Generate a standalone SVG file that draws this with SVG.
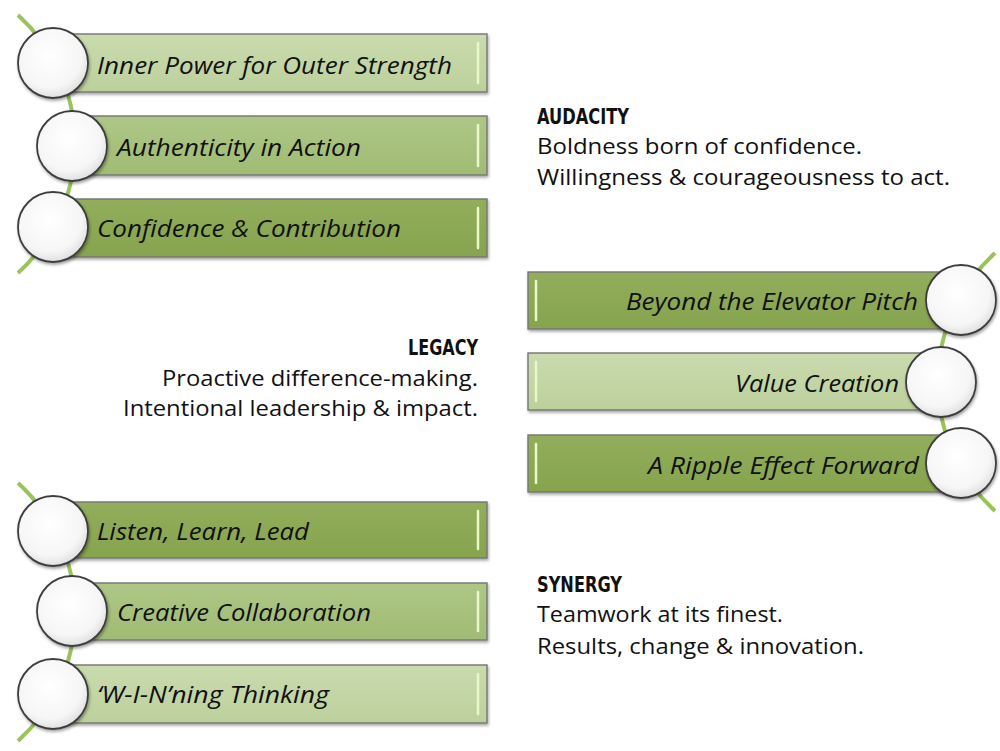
<svg xmlns="http://www.w3.org/2000/svg" width="1000" height="751" viewBox="0 0 1000 751">
<defs>
<linearGradient id="gL" x1="0" y1="0" x2="0" y2="1"><stop offset="0" stop-color="#cadbae"/><stop offset="1" stop-color="#bcd09c"/></linearGradient>
<linearGradient id="gM" x1="0" y1="0" x2="0" y2="1"><stop offset="0" stop-color="#aec786"/><stop offset="1" stop-color="#a0bb74"/></linearGradient>
<linearGradient id="gD" x1="0" y1="0" x2="0" y2="1"><stop offset="0" stop-color="#92ae5c"/><stop offset="1" stop-color="#86a34e"/></linearGradient>
<radialGradient id="gC" cx="0.45" cy="0.4" r="0.65"><stop offset="0" stop-color="#ffffff"/><stop offset="0.7" stop-color="#f6f6f6"/><stop offset="1" stop-color="#d9d9d9"/></radialGradient>
<filter id="sh" x="-10%" y="-20%" width="120%" height="150%"><feDropShadow dx="1" dy="2" stdDeviation="1.5" flood-color="#000" flood-opacity="0.35"/></filter>
</defs>
<style>
.bar{stroke:#767676;stroke-width:1.4;filter:url(#sh)}
.L{fill:url(#gL)} .M{fill:url(#gM)} .D{fill:url(#gD)}
.hl{stroke:#eaf8c8;stroke-width:2.5;stroke-linecap:round}
.circ{fill:url(#gC);stroke:#3e3e3e;stroke-width:1.8;filter:url(#sh)}
.lt{font-family:"Open Sans",Lato,sans-serif;font-style:italic;font-size:23px;fill:#111}
.hd{font-family:"DejaVu Sans",sans-serif;font-stretch:condensed;font-weight:bold;font-size:22px;fill:#111}
.bd{font-family:"Open Sans",Lato,sans-serif;font-size:21px;fill:#111}
.ln{fill:none;stroke:#9bc35a;stroke-width:4}
</style>
<g id="connectors">
<path class="ln" d="M18,15 A174.5,174.5 0 0 1 18,273"/>
<path class="ln" d="M995,253 A174.5,174.5 0 0 0 995,511"/>
<path class="ln" d="M18,483 A174.5,174.5 0 0 1 18,741"/>
</g>
<g id="n1"><rect class="bar L" x="55" y="34" width="432" height="58"/><line class="hl" x1="478" y1="43" x2="478" y2="83"/><circle class="circ" cx="53" cy="63" r="35"/><text class="lt" x="97" y="74" textLength="355" lengthAdjust="spacingAndGlyphs">Inner Power for Outer Strength</text></g>
<g id="n2"><rect class="bar M" x="75" y="116" width="412" height="59"/><line class="hl" x1="478" y1="125" x2="478" y2="166"/><circle class="circ" cx="72" cy="146" r="35"/><text class="lt" x="117" y="156" textLength="244" lengthAdjust="spacingAndGlyphs">Authenticity in Action</text></g>
<g id="n3"><rect class="bar D" x="55" y="199" width="432" height="58"/><line class="hl" x1="478" y1="208" x2="478" y2="248"/><circle class="circ" cx="53" cy="227" r="35"/><text class="lt" x="97" y="237" textLength="304" lengthAdjust="spacingAndGlyphs">Confidence &amp; Contribution</text></g>
<g id="n4"><rect class="bar D" x="528" y="272" width="432" height="57"/><line class="hl" x1="536" y1="281" x2="536" y2="320"/><circle class="circ" cx="961" cy="300" r="35"/><text class="lt" x="626" y="310" textLength="292" lengthAdjust="spacingAndGlyphs">Beyond the Elevator Pitch</text></g>
<g id="n5"><rect class="bar L" x="528" y="353" width="412" height="57"/><line class="hl" x1="536" y1="362" x2="536" y2="401"/><circle class="circ" cx="941" cy="382" r="35"/><text class="lt" x="735" y="392" textLength="164" lengthAdjust="spacingAndGlyphs">Value Creation</text></g>
<g id="n6"><rect class="bar D" x="528" y="435" width="432" height="57"/><line class="hl" x1="536" y1="444" x2="536" y2="483"/><circle class="circ" cx="961" cy="463" r="35"/><text class="lt" x="648" y="474" textLength="271" lengthAdjust="spacingAndGlyphs">A Ripple Effect Forward</text></g>
<g id="n7"><rect class="bar D" x="55" y="502" width="432" height="56"/><line class="hl" x1="478" y1="511" x2="478" y2="549"/><circle class="circ" cx="53" cy="531" r="35"/><text class="lt" x="97" y="540" textLength="212" lengthAdjust="spacingAndGlyphs">Listen, Learn, Lead</text></g>
<g id="n8"><rect class="bar M" x="75" y="583" width="412" height="57"/><line class="hl" x1="478" y1="592" x2="478" y2="631"/><circle class="circ" cx="72" cy="611" r="35"/><text class="lt" x="117" y="621" textLength="254" lengthAdjust="spacingAndGlyphs">Creative Collaboration</text></g>
<g id="n9"><rect class="bar L" x="55" y="665" width="432" height="58"/><line class="hl" x1="478" y1="674" x2="478" y2="714"/><circle class="circ" cx="53" cy="694" r="35"/><text class="lt" x="97" y="703" textLength="232" lengthAdjust="spacingAndGlyphs">‘W-I-N’ning Thinking</text></g>
<g id="audacity"><text class="hd" x="537" y="124" textLength="92" lengthAdjust="spacingAndGlyphs">AUDACITY</text><text class="bd" x="537" y="154" textLength="325" lengthAdjust="spacingAndGlyphs">Boldness born of confidence.</text><text class="bd" x="537" y="185" textLength="413" lengthAdjust="spacingAndGlyphs">Willingness &amp; courageousness to act.</text></g>
<g id="legacy"><text class="hd" x="408" y="355" textLength="70" lengthAdjust="spacingAndGlyphs">LEGACY</text><text class="bd" x="162" y="386" textLength="316" lengthAdjust="spacingAndGlyphs">Proactive difference-making.</text><text class="bd" x="123" y="416" textLength="355" lengthAdjust="spacingAndGlyphs">Intentional leadership &amp; impact.</text></g>
<g id="synergy"><text class="hd" x="537" y="592" textLength="85" lengthAdjust="spacingAndGlyphs">SYNERGY</text><text class="bd" x="537" y="622" textLength="246" lengthAdjust="spacingAndGlyphs">Teamwork at its finest.</text><text class="bd" x="537" y="654" textLength="327" lengthAdjust="spacingAndGlyphs">Results, change &amp; innovation.</text></g>
</svg>
